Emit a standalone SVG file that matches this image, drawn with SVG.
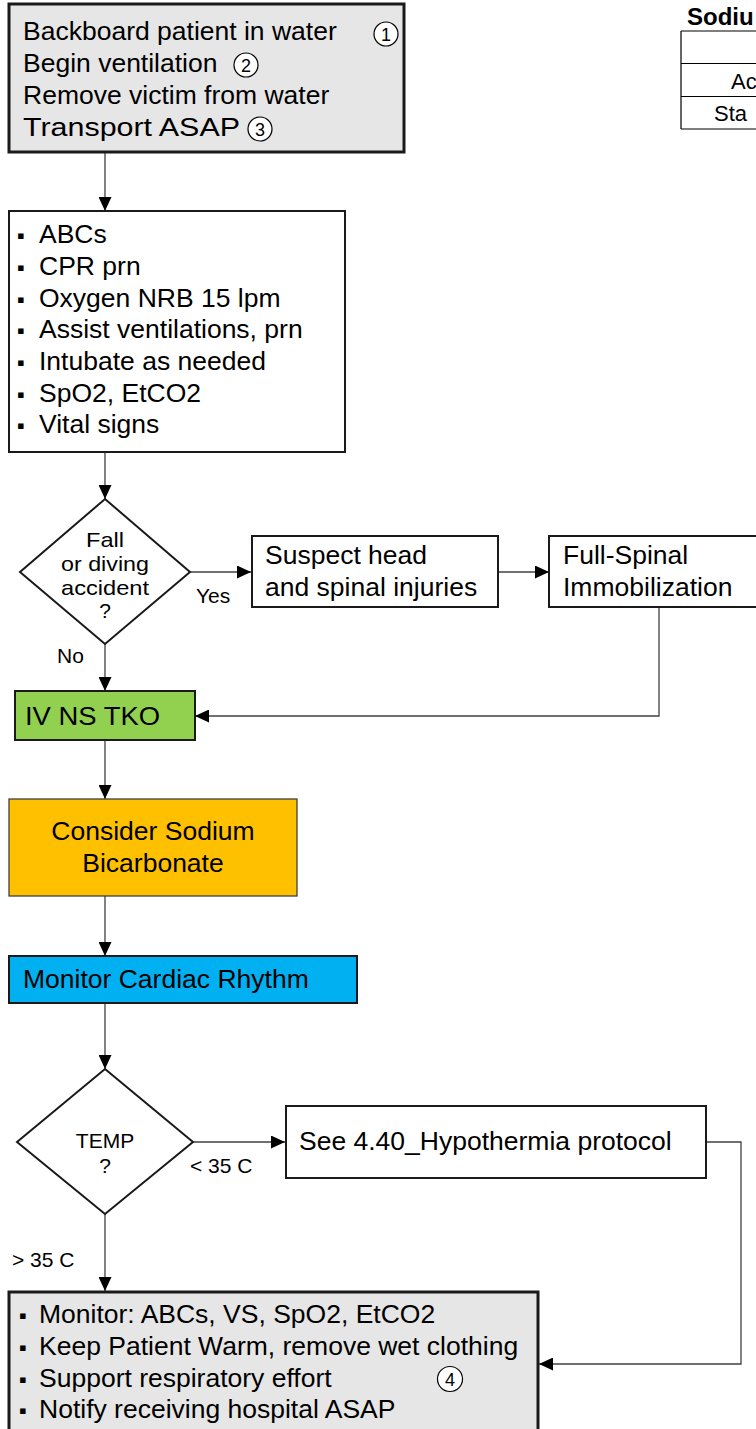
<svg xmlns="http://www.w3.org/2000/svg" width="756" height="1429" viewBox="0 0 756 1429">
  <defs>
    <marker id="arrow" viewBox="0 0 14 13" refX="14" refY="6.5" markerWidth="14" markerHeight="13" markerUnits="userSpaceOnUse" orient="auto">
      <path d="M0,0 L14,6.5 L0,13 Z" fill="#000"/>
    </marker>
    <style>
      text { font-family: "Liberation Sans", Arial, sans-serif; fill: #000; }
      .t { font-size: 26.5px; }
      .b { font-size: 22px; }
      .d { font-size: 21px; text-anchor: middle; }
      .lbl { font-size: 21px; }
      .num { font-size: 18px; text-anchor: middle; }
      .box { fill: #fff; stroke: #1a1a1a; stroke-width: 2; }
      .gray { fill: #e6e6e6; stroke: #1a1a1a; stroke-width: 3; }
      .circ { fill: #fff; stroke: #000; stroke-width: 1.2; }
      .conn { fill: none; stroke: #404040; stroke-width: 1.3; }
      .arr { marker-end: url(#arrow); }
    </style>
  </defs>

  <!-- connectors -->
  <g id="connectors">
    <path class="conn arr" d="M105,152 V211"/>
    <path class="conn arr" d="M105,452 V499"/>
    <path class="conn arr" d="M190,572 H251"/>
    <path class="conn arr" d="M499,572 H549"/>
    <path class="conn arr" d="M659,607 V716 H195"/>
    <path class="conn arr" d="M105,644 V691"/>
    <path class="conn arr" d="M105,740 V799"/>
    <path class="conn arr" d="M105,896 V956"/>
    <path class="conn arr" d="M105,1003 V1069"/>
    <path class="conn arr" d="M193,1142 H285"/>
    <path class="conn arr" d="M706,1142 H741 V1364 H539"/>
    <path class="conn arr" d="M105,1214 V1291"/>
    <text class="lbl" x="196" y="603">Yes</text>
    <text class="lbl" x="57" y="663">No</text>
    <text class="lbl" x="190" y="1173">&lt; 35 C</text>
    <text class="lbl" x="12" y="1267">&gt; 35 C</text>
  </g>

  <!-- scene actions -->
  <g id="n-scene">
    <rect class="gray" x="9" y="4" width="395" height="148"/>
    <text class="t" x="23" y="40">Backboard patient in water</text>
    <text class="t" x="23" y="72">Begin ventilation</text>
    <text class="t" x="23" y="104">Remove victim from water</text>
    <text class="t" x="23" y="136" textLength="217" lengthAdjust="spacingAndGlyphs">Transport ASAP</text>
    <circle class="circ" cx="386" cy="34" r="12"/>
    <text class="num" x="386" y="40.5">1</text>
    <circle class="circ" cx="246" cy="65" r="12"/>
    <text class="num" x="246" y="71.5">2</text>
    <circle class="circ" cx="260" cy="129" r="12"/>
    <text class="num" x="260" y="135.5">3</text>
  </g>

  <!-- initial care -->
  <g id="n-initial">
    <rect class="box" x="9" y="211" width="336" height="241"/>
    <text class="t"><tspan class="b" x="17" y="243">▪</tspan><tspan x="39" y="243">ABCs</tspan></text>
    <text class="t"><tspan class="b" x="17" y="275">▪</tspan><tspan x="39" y="275">CPR prn</tspan></text>
    <text class="t"><tspan class="b" x="17" y="307">▪</tspan><tspan x="39" y="307">Oxygen NRB 15 lpm</tspan></text>
    <text class="t"><tspan class="b" x="17" y="338">▪</tspan><tspan x="39" y="338">Assist ventilations, prn</tspan></text>
    <text class="t"><tspan class="b" x="17" y="370">▪</tspan><tspan x="39" y="370">Intubate as needed</tspan></text>
    <text class="t"><tspan class="b" x="17" y="402">▪</tspan><tspan x="39" y="402">SpO2, EtCO2</tspan></text>
    <text class="t"><tspan class="b" x="17" y="433">▪</tspan><tspan x="39" y="433">Vital signs</tspan></text>
  </g>

  <!-- decision: fall or diving -->
  <g id="n-fall">
    <polygon class="box" points="105,499 190,572 105,644 20,572" stroke-width="2.5"/>
    <text class="d" x="105" y="547" textLength="38" lengthAdjust="spacingAndGlyphs">Fall</text>
    <text class="d" x="105" y="571" textLength="88" lengthAdjust="spacingAndGlyphs">or diving</text>
    <text class="d" x="105" y="595" textLength="88" lengthAdjust="spacingAndGlyphs">accident</text>
    <text class="d" x="105" y="618">?</text>
  </g>

  <g id="n-suspect">
    <rect class="box" x="252" y="536" width="246" height="71"/>
    <text class="t" x="265" y="564">Suspect head</text>
    <text class="t" x="265" y="596">and spinal injuries</text>
  </g>

  <g id="n-spinal">
    <rect class="box" x="549" y="536" width="220" height="71"/>
    <text class="t" x="563" y="564">Full-Spinal</text>
    <text class="t" x="563" y="596">Immobilization</text>
  </g>

  <g id="n-iv">
    <rect x="15" y="691" width="180" height="49" fill="#92d050" stroke="#1a1a1a" stroke-width="2"/>
    <text class="t" x="25" y="725" textLength="135" lengthAdjust="spacingAndGlyphs">IV NS TKO</text>
  </g>

  <g id="n-bicarb">
    <rect x="9" y="799" width="288" height="97" fill="#ffc000" stroke="#404040" stroke-width="1.3"/>
    <text class="t" x="153" y="840" text-anchor="middle">Consider Sodium</text>
    <text class="t" x="153" y="872" text-anchor="middle">Bicarbonate</text>
  </g>

  <g id="n-monitor">
    <rect x="9" y="956" width="348" height="47" fill="#00b0f0" stroke="#1a1a1a" stroke-width="2"/>
    <text class="t" x="23" y="988">Monitor Cardiac Rhythm</text>
  </g>

  <!-- decision: temperature -->
  <g id="n-temp">
    <polygon class="box" points="105,1069 193,1142 105,1214 17,1142" stroke-width="2.5"/>
    <text class="lbl" x="105" y="1148" text-anchor="middle">TEMP</text>
    <text class="lbl" x="105" y="1173" text-anchor="middle">?</text>
  </g>

  <g id="n-hypo">
    <rect class="box" x="286" y="1106" width="420" height="72"/>
    <text class="t" x="299" y="1150">See 4.40_Hypothermia protocol</text>
  </g>

  <!-- ongoing care -->
  <g id="n-ongoing">
    <rect class="gray" x="9" y="1292" width="529" height="150"/>
    <text class="t"><tspan class="b" x="19" y="1323">▪</tspan><tspan x="39" y="1323">Monitor: ABCs, VS, SpO2, EtCO2</tspan></text>
    <text class="t"><tspan class="b" x="19" y="1355">▪</tspan><tspan x="39" y="1355">Keep Patient Warm, remove wet clothing</tspan></text>
    <text class="t"><tspan class="b" x="19" y="1387">▪</tspan><tspan x="39" y="1387">Support respiratory effort</tspan></text>
    <text class="t"><tspan class="b" x="19" y="1418">▪</tspan><tspan x="39" y="1418">Notify receiving hospital ASAP</tspan></text>
    <circle class="circ" cx="450" cy="1379" r="12.5"/>
    <text class="num" x="450" y="1385.5">4</text>
  </g>

  <!-- dosing table -->
  <g id="n-table">
    <text x="687" y="25" font-size="24" font-weight="bold">Sodiu</text>
    <path d="M681,31 H760 M681,63.5 H760 M681,96.5 H760 M681,129 H760 M681,31 V129" fill="none" stroke="#000" stroke-width="1.2"/>
    <text x="731" y="89" font-size="22">Ac</text>
    <text x="714" y="121" font-size="22">Sta</text>
  </g>
</svg>
